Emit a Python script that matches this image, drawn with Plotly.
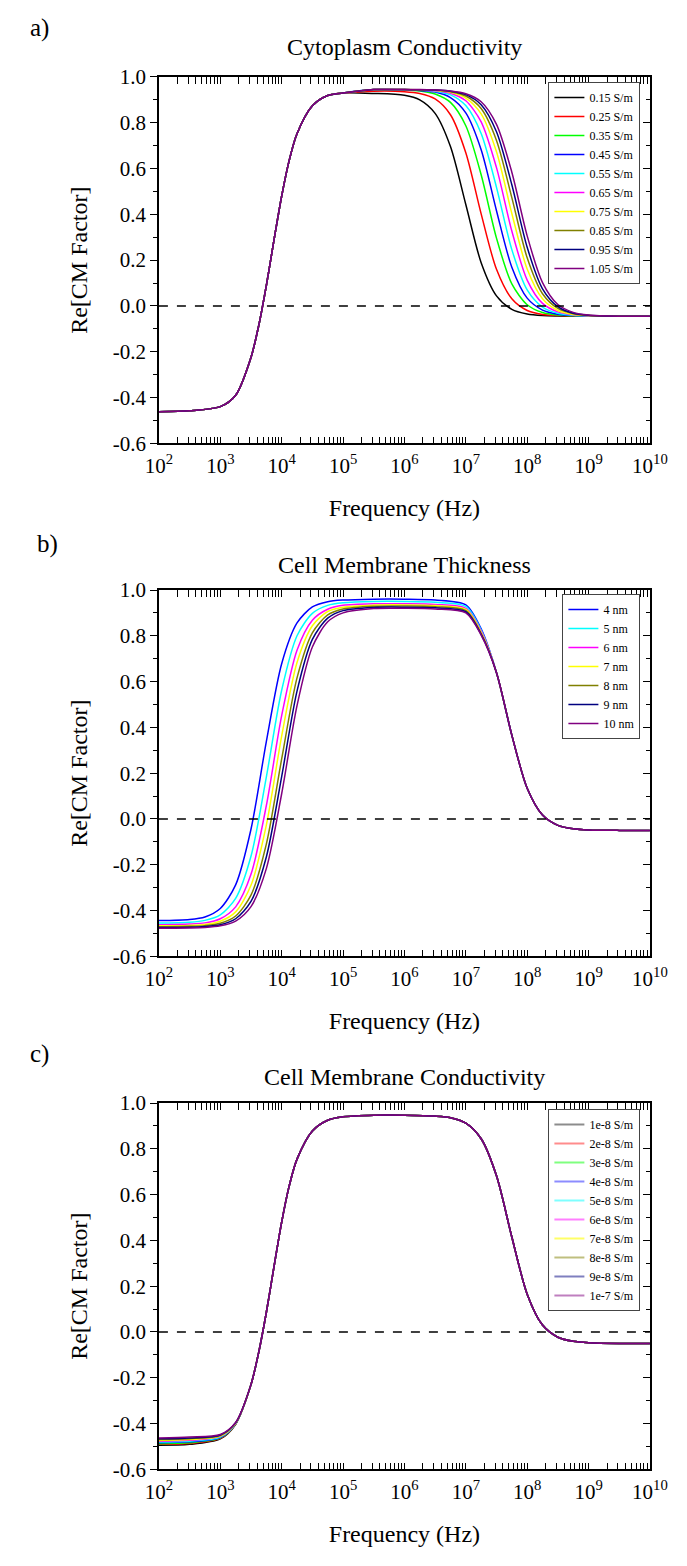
import plotly.graph_objects as go

FONT = "Liberation Serif"

# ---------------- Panel a: Cytoplasm Conductivity ----------------
a_low_exp = [2.0, 2.5, 3.0, 3.25, 3.5, 3.625, 3.75, 3.875, 4.0, 4.125, 4.25, 4.5, 4.75, 5.0]
a_low_val = [-0.462, -0.458, -0.440, -0.390, -0.225, -0.087, 0.089, 0.288, 0.480, 0.638, 0.752, 0.874, 0.919, 0.930]
a_high_exp = [5.5, 6.0, 6.25, 6.5, 6.75, 7.0, 7.25, 7.5, 7.75, 8.0, 8.25, 8.5, 8.75, 9.0, 9.5, 10.0]
a_015 = [0.928, 0.920, 0.900, 0.841, 0.696, 0.443, 0.189, 0.044, -0.015, -0.035, -0.042, -0.044, -0.045, -0.045, -0.045, -0.045]
a_025 = [0.938, 0.936, 0.928, 0.904, 0.835, 0.669, 0.402, 0.160, 0.031, -0.020, -0.037, -0.042, -0.044, -0.045, -0.045, -0.045]
a_035 = [0.944, 0.943, 0.939, 0.926, 0.889, 0.787, 0.573, 0.296, 0.096, 0.005, -0.029, -0.040, -0.043, -0.045, -0.045, -0.045]
a_045 = [0.945, 0.944, 0.941, 0.934, 0.910, 0.843, 0.682, 0.416, 0.169, 0.034, -0.018, -0.036, -0.042, -0.044, -0.045, -0.045]
a_055 = [0.945, 0.945, 0.943, 0.937, 0.922, 0.875, 0.753, 0.518, 0.246, 0.070, -0.005, -0.032, -0.041, -0.044, -0.045, -0.045]
a_065 = [0.945, 0.945, 0.943, 0.940, 0.929, 0.896, 0.804, 0.604, 0.327, 0.113, 0.011, -0.026, -0.039, -0.043, -0.045, -0.045]
a_075 = [0.945, 0.945, 0.944, 0.941, 0.933, 0.908, 0.839, 0.673, 0.404, 0.161, 0.031, -0.020, -0.037, -0.042, -0.045, -0.045]
a_085 = [0.945, 0.945, 0.944, 0.942, 0.936, 0.917, 0.862, 0.723, 0.473, 0.210, 0.053, -0.011, -0.034, -0.042, -0.045, -0.045]
a_095 = [0.945, 0.945, 0.944, 0.943, 0.938, 0.923, 0.879, 0.761, 0.529, 0.256, 0.075, -0.003, -0.032, -0.041, -0.045, -0.045]
a_105 = [0.945, 0.945, 0.945, 0.943, 0.939, 0.927, 0.892, 0.793, 0.584, 0.306, 0.102, 0.006, -0.028, -0.040, -0.045, -0.045]
a_series = [a_015, a_025, a_035, a_045, a_055, a_065, a_075, a_085, a_095, a_105]
a_labels = ["0.15 S/m", "0.25 S/m", "0.35 S/m", "0.45 S/m", "0.55 S/m",
            "0.65 S/m", "0.75 S/m", "0.85 S/m", "0.95 S/m", "1.05 S/m"]
a_colors = ["#000000", "#ff0000", "#00ff00", "#0000ff", "#00ffff",
            "#ff00ff", "#ffff00", "#808000", "#000080", "#800080"]

# ---------------- Panel b: Cell Membrane Thickness ----------------
b_low_exp = [2.0, 2.5, 2.75, 3.0, 3.25, 3.5, 3.75, 4.0, 4.25, 4.5, 4.75, 5.0, 5.5, 6.0, 6.5, 7.0, 7.25]
b_4 = [-0.444, -0.439, -0.428, -0.391, -0.288, -0.045, 0.338, 0.678, 0.856, 0.926, 0.949, 0.956, 0.960, 0.960, 0.956, 0.935, 0.830]
b_5 = [-0.455, -0.451, -0.443, -0.419, -0.347, -0.163, 0.183, 0.562, 0.800, 0.898, 0.933, 0.944, 0.950, 0.950, 0.946, 0.928, 0.825]
b_6 = [-0.462, -0.459, -0.454, -0.436, -0.384, -0.242, 0.058, 0.451, 0.737, 0.868, 0.916, 0.933, 0.940, 0.940, 0.937, 0.920, 0.820]
b_7 = [-0.467, -0.465, -0.461, -0.447, -0.406, -0.290, -0.027, 0.362, 0.683, 0.844, 0.906, 0.925, 0.934, 0.935, 0.932, 0.915, 0.815]
b_8 = [-0.471, -0.469, -0.466, -0.456, -0.424, -0.333, -0.110, 0.262, 0.616, 0.813, 0.891, 0.917, 0.929, 0.930, 0.927, 0.910, 0.810]
b_9 = [-0.474, -0.473, -0.470, -0.462, -0.436, -0.360, -0.166, 0.185, 0.558, 0.784, 0.877, 0.910, 0.924, 0.925, 0.922, 0.905, 0.806]
b_10 = [-0.477, -0.476, -0.474, -0.467, -0.446, -0.383, -0.217, 0.110, 0.495, 0.751, 0.861, 0.900, 0.919, 0.920, 0.917, 0.900, 0.803]
b_high_exp = [7.5, 7.75, 8.0, 8.25, 8.5, 8.75, 9.0, 9.5, 10.0]
b_high_val = [0.639, 0.366, 0.134, 0.017, -0.028, -0.043, -0.048, -0.050, -0.050]
b_series = [b_4, b_5, b_6, b_7, b_8, b_9, b_10]
b_labels = ["4 nm", "5 nm", "6 nm", "7 nm", "8 nm", "9 nm", "10 nm"]
b_colors = ["#0000ff", "#00ffff", "#ff00ff", "#ffff00", "#808000", "#000080", "#800080"]

# ---------------- Panel c: Cell Membrane Conductivity ----------------
c_low_exp = [2.0, 2.5, 3.0, 3.25]
c_1e8 = [-0.495, -0.491, -0.467, -0.403]
c_2e8 = [-0.491, -0.487, -0.465, -0.402]
c_3e8 = [-0.488, -0.484, -0.463, -0.401]
c_4e8 = [-0.484, -0.480, -0.461, -0.400]
c_5e8 = [-0.481, -0.477, -0.459, -0.400]
c_6e8 = [-0.477, -0.473, -0.456, -0.399]
c_7e8 = [-0.474, -0.470, -0.455, -0.398]
c_8e8 = [-0.470, -0.466, -0.452, -0.397]
c_9e8 = [-0.467, -0.463, -0.450, -0.396]
c_1e7 = [-0.463, -0.459, -0.448, -0.395]
c_high_exp = [3.5, 3.625, 3.75, 3.875, 4.0, 4.125, 4.25, 4.5, 4.75, 5.0, 5.5, 6.0, 6.5, 6.75,
              7.0, 7.25, 7.5, 7.75, 8.0, 8.25, 8.5, 8.75, 9.0, 9.5, 10.0]
c_high_val = [-0.230, -0.090, 0.085, 0.285, 0.480, 0.640, 0.755, 0.878, 0.925, 0.940, 0.947, 0.947, 0.943, 0.936,
              0.912, 0.844, 0.682, 0.415, 0.165, 0.030, -0.023, -0.041, -0.047, -0.050, -0.050]
c_series = [c_1e8, c_2e8, c_3e8, c_4e8, c_5e8, c_6e8, c_7e8, c_8e8, c_9e8, c_1e7]
c_labels = ["1e-8 S/m", "2e-8 S/m", "3e-8 S/m", "4e-8 S/m", "5e-8 S/m",
            "6e-8 S/m", "7e-8 S/m", "8e-8 S/m", "9e-8 S/m", "1e-7 S/m"]
c_colors = a_colors
c_legend_colors = ["rgba(0,0,0,0.45)", "rgba(255,0,0,0.45)", "rgba(0,255,0,0.5)", "rgba(0,0,255,0.45)",
                   "rgba(0,255,255,0.5)", "rgba(255,0,255,0.5)", "rgba(255,255,0,0.6)",
                   "rgba(128,128,0,0.5)", "rgba(0,0,128,0.5)", "rgba(128,0,128,0.5)"]

panel_titles = ["Cytoplasm Conductivity", "Cell Membrane Thickness", "Cell Membrane Conductivity"]
panel_tags = ["a)", "b)", "c)"]
x_tick_exp = [2, 3, 4, 5, 6, 7, 8, 9, 10]
x_tick_text = ["10<sup>%d</sup>" % e for e in x_tick_exp]
y_tick_vals = [-0.6, -0.4, -0.2, 0.0, 0.2, 0.4, 0.6, 0.8, 1.0]
y_tick_text = ["-0.6", "-0.4", "-0.2", "0.0", "0.2", "0.4", "0.6", "0.8", "1.0"]

# ---------------- figure ----------------
W, H = 687, 1566
def py(p):
    return 1 - p / H

X_DOM = [152 / W, 667 / W]
Y_DOMS = [(438, 66), (959, 587), (1480, 1108)]
TITLE_Y = [36, 562, 1082]
TAG_POS = [(27, 16), (35, 540), (27, 1058)]
LEG_TOP = [71, 591, 1114]

fig = go.Figure()

def f(exps):
    return [10 ** e for e in exps]

for vals, name, col in zip(a_series, a_labels, a_colors):
    fig.add_trace(go.Scatter(x=f(a_low_exp + a_high_exp), y=a_low_val + vals, mode="lines",
                             line=dict(color=col, width=1.5, shape="spline", smoothing=0.8),
                             name=name, legend="legend", xaxis="x", yaxis="y"))
for vals, name, col in zip(b_series, b_labels, b_colors):
    fig.add_trace(go.Scatter(x=f(b_low_exp + b_high_exp), y=vals + b_high_val, mode="lines",
                             line=dict(color=col, width=1.5, shape="spline", smoothing=0.8),
                             name=name, legend="legend2", xaxis="x2", yaxis="y2"))
for vals, name, col in zip(c_series, c_labels, c_colors):
    fig.add_trace(go.Scatter(x=f(c_low_exp + c_high_exp), y=vals + c_high_val, mode="lines",
                             line=dict(color=col, width=1.5, shape="spline", smoothing=0.8),
                             name=name, showlegend=False, xaxis="x3", yaxis="y3"))
for name, col in zip(c_labels, c_legend_colors):
    fig.add_trace(go.Scatter(x=[None], y=[None], mode="lines", line=dict(color=col, width=2),
                             name=name, legend="legend3", xaxis="x3", yaxis="y3"))

minor_x = [m * 10 ** e for e in range(2, 10) for m in range(2, 10)]

layout = dict(width=W, height=H, margin=dict(l=0, r=0, t=0, b=0),
              paper_bgcolor="white", plot_bgcolor="white",
              font=dict(family=FONT, color="black", size=20),
              annotations=[], shapes=[])

for i in range(3):
    sfx = "" if i == 0 else str(i + 1)
    bot, top = Y_DOMS[i]
    ydom = [py(bot), py(top)]
    layout["xaxis" + sfx] = dict(
        domain=X_DOM, anchor="y" + sfx, type="log", range=[2, 10],
        tickmode="array", tickvals=f(x_tick_exp), ticktext=x_tick_text,
        ticks="inside", ticklen=7, tickwidth=1.3, tickcolor="black",
        minor=dict(tickvals=minor_x, ticks="inside", ticklen=4, tickwidth=1, tickcolor="black"),
        showline=True, linecolor="black", linewidth=1.5, mirror="allticks",
        showgrid=False, zeroline=False, ticklabelstandoff=3,
        tickfont=dict(family=FONT, size=21),
        title=dict(text="Frequency (Hz)", font=dict(family=FONT, size=24), standoff=22))
    layout["yaxis" + sfx] = dict(
        domain=ydom, anchor="x" + sfx, range=[-0.6, 1.0],
        tickmode="array", tickvals=y_tick_vals, ticktext=y_tick_text,
        ticks="outside", ticklen=7, tickwidth=1.3, tickcolor="black",
        minor=dict(tickvals=[-0.5, -0.3, -0.1, 0.1, 0.3, 0.5, 0.7, 0.9], ticks="outside",
                   ticklen=4, tickwidth=1, tickcolor="black"),
        showline=True, linecolor="black", linewidth=1.5, mirror=True,
        showgrid=False, zeroline=False,
        tickfont=dict(family=FONT, size=21),
        title=dict(text="Re[CM Factor]", font=dict(family=FONT, size=24), standoff=18))
    # right-hand axis carrying inward ticks
    layout["yaxis%d" % (i + 4)] = dict(
        domain=ydom, anchor="x" + sfx, overlaying="y" + sfx, side="right", range=[-0.6, 1.0],
        tickmode="array", tickvals=y_tick_vals, showticklabels=False,
        ticks="inside", ticklen=7, tickwidth=1.3, tickcolor="black",
        minor=dict(tickvals=[-0.5, -0.3, -0.1, 0.1, 0.3, 0.5, 0.7, 0.9], ticks="inside",
                   ticklen=4, tickwidth=1, tickcolor="black"),
        showline=False, showgrid=False, zeroline=False)
    layout["shapes"].append(dict(type="line", xref="x%s domain" % sfx, yref="y" + sfx,
                                 x0=0, x1=1, y0=0, y1=0,
                                 line=dict(color="black", width=1.5, dash="dash")))
    layout["annotations"].append(dict(text=panel_titles[i], xref="paper", yref="paper",
                                      x=(X_DOM[0] + X_DOM[1]) / 2, y=py(TITLE_Y[i]),
                                      xanchor="center", yanchor="middle", showarrow=False,
                                      font=dict(family=FONT, size=24)))
    tx, ty = TAG_POS[i]
    layout["annotations"].append(dict(text=panel_tags[i], xref="paper", yref="paper",
                                      x=tx / W, y=py(ty), xanchor="center", yanchor="middle",
                                      showarrow=False, font=dict(family=FONT, size=25)))
    leg = dict(x=657 / W, y=py(LEG_TOP[i]), xanchor="right", yanchor="top",
               bgcolor="white", bordercolor="#444444", borderwidth=1,
               font=dict(family=FONT, size=12), tracegroupgap=0, itemwidth=30)
    layout["legend" if i == 0 else "legend%d" % (i + 1)] = leg

fig.update_layout(**layout)

# dummy invisible traces so the right-hand tick axes are drawn
for i in range(3):
    sfx = "" if i == 0 else str(i + 1)
    fig.add_trace(go.Scatter(x=[None], y=[None], mode="lines", showlegend=False,
                             hoverinfo="skip", xaxis="x" + sfx, yaxis="y%d" % (i + 4)))

fig.write_html("out.html")
